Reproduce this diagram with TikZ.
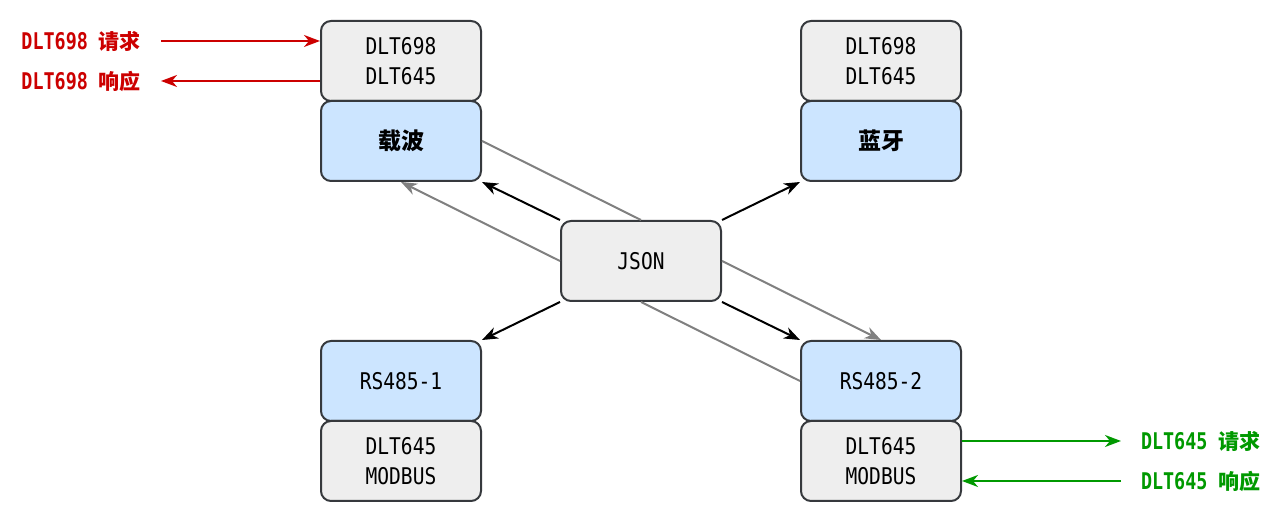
\documentclass[tikz,border=0pt]{standalone}
\usepackage{fontspec}
\setmainfont{DejaVu Sans Mono}[FakeStretch=0.85]
\newfontfamily\msgfont{DejaVu Sans Mono}[FakeStretch=0.8]
\newfontfamily\cjk{Noto Sans CJK SC}
\usetikzlibrary{arrows.meta}
\definecolor{boxgray}{HTML}{EEEEEE}
\definecolor{boxblue}{HTML}{CCE5FF}
\definecolor{boxline}{HTML}{36393D}
\definecolor{linkgray}{HTML}{808080}
\definecolor{reqred}{HTML}{CC0000}
\definecolor{reqgreen}{HTML}{009900}
\newcommand\Px{0.5pt}
\tikzset{
  proto/.style={
    shape = rectangle,
    rounded corners = 5pt,
    draw = boxline,
    line width = 1pt,
    fill = boxgray,
    minimum width = 80pt,
    minimum height = 40pt,
    inner sep = 0pt,
    align = center,
    font = \fontsize{11.5}{15}\selectfont
  },
  port/.style={
    proto,
    fill = boxblue
  },
  link/.style={
    -{Stealth[length=8pt,width=6pt,inset=2.5pt]},
    line width = 1pt
  },
  relay/.style={
    linkgray,
    line width = 1pt
  },
  msg/.style={
    font = {\fontsize{11.5}{15}\selectfont\msgfont\bfseries},
    inner sep = 0pt,
    outer xsep = 10pt
  },
  msgline/.style={
    -{Stealth[length=8pt,width=6pt,inset=2.5pt]},
    line width = 1pt
  }
}

\begin{document}
\begin{tikzpicture}[x=\Px,y=-\Px]
\useasboundingbox (0,0) rectangle (1282,522);

       % stacks
       \node[proto] (carrierproto) at (401,61) {DLT698\\DLT645};
       \node[port] (carrier) at (401,141) {\cjk\bfseries 载波};
       \node[proto] (btproto) at (881,61) {DLT698\\DLT645};
       \node[port] (bt) at (881,141) {\cjk\bfseries 蓝牙};

       \node[proto] (json) at (641,261) {JSON};

       \node[port] (rsone) at (401,381) {RS485-1};
       \node[proto] (rsoneproto) at (401,461) {DLT645\\MODBUS};
       \node[port] (rstwo) at (881,381) {RS485-2};
       \node[proto] (rstwoproto) at (881,461) {DLT645\\MODBUS};

       % gray relay lines
       \draw[relay] (carrier.east) -- (json.north);
       \draw[relay, -{Stealth[length=8pt,width=6pt,inset=2.5pt]}] (json.west) -- (carrier.south);
       \draw[relay, -{Stealth[length=8pt,width=6pt,inset=2.5pt]}] (json.east) -- (rstwo.north);
       \draw[relay] (json.south) -- (rstwo.west);

       \draw[link] (json.north west) -- (carrier.south east);
       \draw[link] (json.north east) -- (bt.south west);
       \draw[link] (json.south west) -- (rsone.north east);
       \draw[link] (json.south east) -- (rstwo.north west);

       % requests
       \node[msg, text=reqred, anchor=east] (req698) at (161,41) {DLT698 {\cjk\fontsize{10.5}{15}\selectfont 请求}};
       \node[msg, text=reqred, anchor=east] (resp698) at (161,81) {DLT698 {\cjk\fontsize{10.5}{15}\selectfont 响应}};
       \draw[msgline, reqred] (req698.east) -- (req698.east -| carrierproto.west);
       \draw[msgline, reqred] (resp698.east -| carrierproto.west) -- (resp698.east);

       \node[msg, text=reqgreen, anchor=west] (req645) at (1121,441) {DLT645 {\cjk\fontsize{10.5}{15}\selectfont 请求}};
       \node[msg, text=reqgreen, anchor=west] (resp645) at (1121,481) {DLT645 {\cjk\fontsize{10.5}{15}\selectfont 响应}};
       \draw[msgline, reqgreen] (req645.west -| rstwoproto.east) -- (req645.west);
       \draw[msgline, reqgreen] (resp645.west) -- (resp645.west -| rstwoproto.east);
\end{tikzpicture}
\end{document}
